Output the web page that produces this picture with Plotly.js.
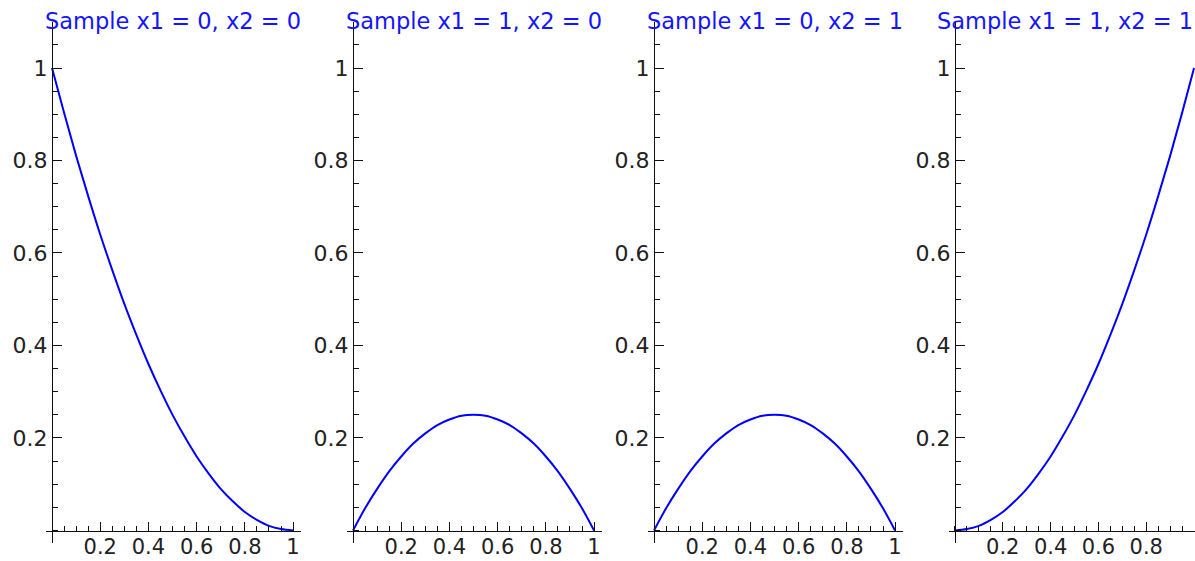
<!DOCTYPE html>
<html>
<head>
<meta charset="utf-8">
<script src="https://cdn.plot.ly/plotly-3.0.1.min.js"></script>
<style>html,body{margin:0;padding:0;background:#fff;}#chart{width:1195px;height:561px;}</style>
</head>
<body>
<div id="chart"></div>
<script>
// Sample points
const xs = [0, 0.05, 0.1, 0.15, 0.2, 0.25, 0.3, 0.35, 0.4, 0.45, 0.5, 0.55, 0.6, 0.65, 0.7, 0.75, 0.8, 0.85, 0.9, 0.95, 1];
const sample00 = [1.0, 0.903, 0.81, 0.723, 0.64, 0.563, 0.49, 0.423, 0.36, 0.303, 0.25, 0.203, 0.16, 0.123, 0.09, 0.063, 0.04, 0.023, 0.01, 0.003, 0.0];
const sample10 = [0.0, 0.048, 0.09, 0.128, 0.16, 0.188, 0.21, 0.228, 0.24, 0.248, 0.25, 0.248, 0.24, 0.228, 0.21, 0.188, 0.16, 0.128, 0.09, 0.048, 0.0];
const sample01 = [0.0, 0.048, 0.09, 0.128, 0.16, 0.188, 0.21, 0.228, 0.24, 0.248, 0.25, 0.248, 0.24, 0.228, 0.21, 0.188, 0.16, 0.128, 0.09, 0.048, 0.0];
const sample11 = [0.0, 0.003, 0.01, 0.023, 0.04, 0.063, 0.09, 0.123, 0.16, 0.203, 0.25, 0.303, 0.36, 0.423, 0.49, 0.563, 0.64, 0.723, 0.81, 0.903, 1.0];
const titles = ["Sample x1 = 0, x2 = 0", "Sample x1 = 1, x2 = 0", "Sample x1 = 0, x2 = 1", "Sample x1 = 1, x2 = 1"];
const tickVals = [0.2, 0.4, 0.6, 0.8, 1];
const tickText = ["0.2", "0.4", "0.6", "0.8", "1"];

const series = [sample00, sample10, sample01, sample11];
const W = 1195, H = 561;
const FONT = "DejaVu Sans, sans-serif";
const axisColor = "#111";
const data = [];
const layout = {
  width: W, height: H,
  margin: {l: 0, r: 0, t: 0, b: 0},
  paper_bgcolor: "#fff", plot_bgcolor: "rgba(0,0,0,0)",
  showlegend: false,
  font: {family: FONT, color: "#222"},
  annotations: []
};
const yDom = [1 - 542.5 / H, 1 - 21.75 / H];
const xAxisPos = 1 - 530.5 / H;

series.forEach((ys, i) => {
  const n = i + 1;
  const sx = n === 1 ? "" : String(n);
  data.push({
    x: xs, y: ys, type: "scatter", mode: "lines",
    line: {color: "rgb(0,0,255)", width: 2, shape: "spline", smoothing: 1},
    xaxis: "x" + sx, yaxis: "y" + sx, hoverinfo: "skip"
  });
  const left = 46 + 301 * i;
  let right = 301 + 301 * i;
  let xr = [-0.025, 1.033];
  const clipped = right > W;
  if (clipped) { right = W; xr = [-0.025, 1.004]; }
  const common = {
    showline: true, linecolor: axisColor, linewidth: 1.3,
    ticks: "inside", ticklen: 9, tickwidth: 1, tickcolor: axisColor,
    tickmode: "array", tickvals: tickVals, ticktext: tickText,
    tickfont: {size: 22, color: "#222", family: FONT},
    minor: {tickmode: "linear", tick0: 0, dtick: 0.05, ticks: "inside", ticklen: 5, tickwidth: 1, tickcolor: axisColor, showgrid: false},
    showgrid: false, zeroline: false, fixedrange: true, anchor: "free"
  };
  layout["xaxis" + sx] = Object.assign({}, common, {
    domain: [left / W, right / W], range: xr, position: xAxisPos, side: "bottom",
    tickfont: {size: 21, color: "#222", family: FONT}, ticklabelstandoff: -3
  });
  layout["yaxis" + sx] = Object.assign({}, common, {
    domain: yDom, range: [-0.026, 1.1], position: (52 + 301 * i) / W, side: "left"
  });
  const ann = {
    text: titles[i], xref: "x" + sx, yref: "paper", x: 0.5, y: 1 - 21 / H,
    xanchor: "center", yanchor: "middle", showarrow: false,
    font: {size: 22.5, color: "rgb(20,20,255)", family: FONT}
  };
  if (clipped) { ann.xref = "paper"; ann.x = 1; ann.xanchor = "right"; }
  layout.annotations.push(ann);
});

Plotly.newPlot("chart", data, layout, {displayModeBar: false, staticPlot: true});
</script>
</body>
</html>
